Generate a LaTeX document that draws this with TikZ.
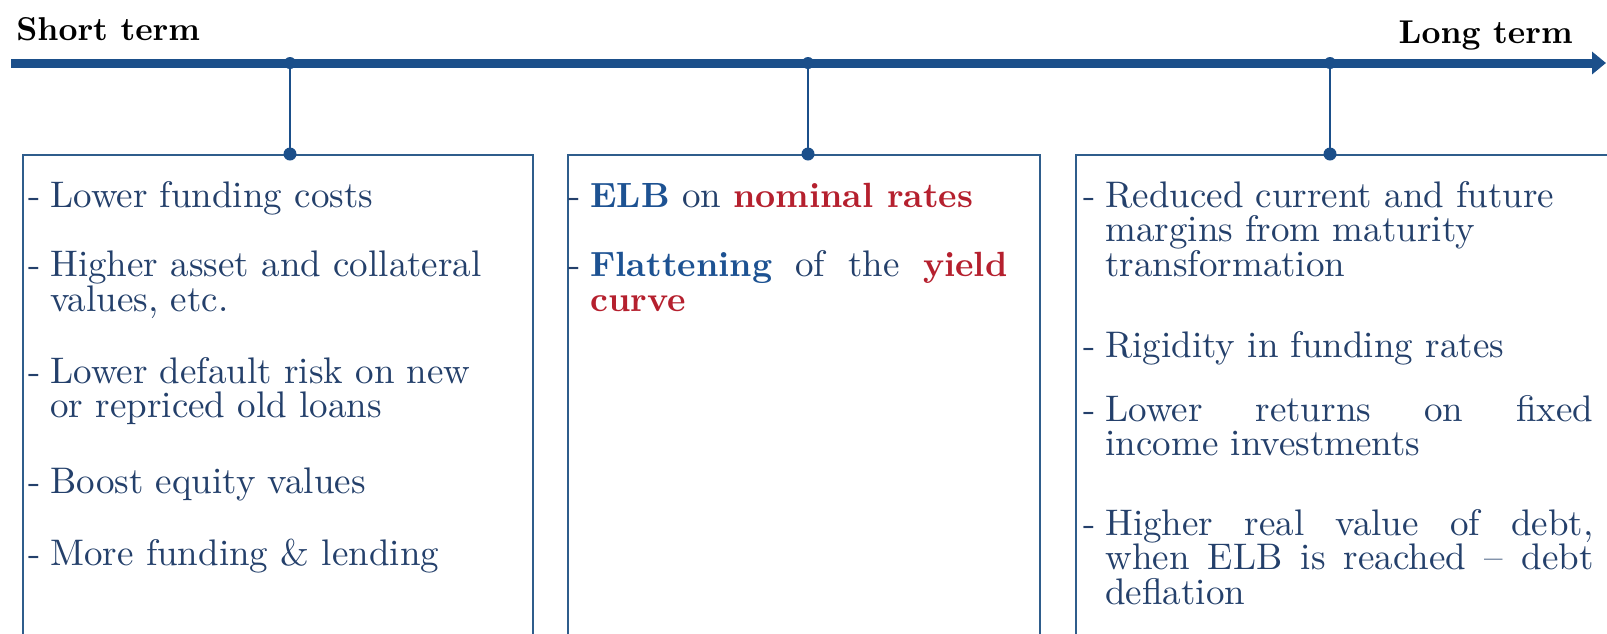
\documentclass[tikz,border=0pt]{standalone}
\usepackage{fontspec}
\setmainfont{lmroman10-regular.otf}[BoldFont=lmroman10-bold.otf,ItalicFont=lmroman10-italic.otf,BoldItalicFont=lmroman10-bolditalic.otf]
\usetikzlibrary{arrows.meta}
\definecolor{axisblue}{HTML}{1B4F8A}
\definecolor{boxblue}{HTML}{2F5D8C}
\definecolor{txt}{HTML}{24406B}
\definecolor{kblue}{HTML}{1D5292}
\definecolor{kred}{HTML}{B5202E}
\newcommand\dsh{\leavevmode\llap{-\hspace{5pt}}}
\newcommand\jus[1]{\makebox[\linewidth][s]{#1}}
\newcommand\kb[1]{{\fontsize{17.5}{17.25}\selectfont\bfseries\color{kblue}#1}}
\newcommand\kr[1]{{\fontsize{17.5}{17.25}\selectfont\bfseries\color{kred}#1}}
\newcommand\bodyfont{\fontsize{18.5}{17.25}\selectfont\lineskiplimit=-20pt\relax}
\newcommand\igap[1][18.75pt]{\\[#1]}
\begin{document}
\begin{tikzpicture}[x=0.5pt,y=-0.5pt,
  axisline/.style={draw=axisblue,line width=4.5pt,-{Triangle[length=7pt,width=11pt]}},
  conn/.style={draw=axisblue,line width=1pt},
  dotmark/.style={fill=axisblue},
  panel/.style={draw=boxblue,line width=0.8pt,rectangle,anchor=north west,inner sep=0pt,minimum height=273pt},
  txtnode/.style={anchor=base west,inner sep=0pt,text=txt},
  head/.style={inner sep=0pt,text=black,font=\fontsize{16.5}{19}\selectfont\bfseries}]
\useasboundingbox (0,0) rectangle (1607,633);
\clip (0,0) rectangle (1607,633);
% panels
\node[panel,minimum width=255pt] (b1) at (22,154) {};
\node[panel,minimum width=236pt] (b2) at (567,154) {};
\node[panel,minimum width=300pt] (b3) at (1075,154) {};
% axis
\coordinate (s) at (11,63);
\coordinate (e) at (1606,63);
\draw[axisline] (s) -- (e);
% connectors
\coordinate (p1) at (290,63);
\coordinate (p2) at (808,63);
\coordinate (p3) at (1330,63);
\path (b1.north west -| p1) coordinate (q1);
\path (b2.north west -| p2) coordinate (q2);
\path (b3.north west -| p3) coordinate (q3);
\draw[conn] (p1) -- (q1);
\draw[conn] (p2) -- (q2);
\draw[conn] (p3) -- (q3);
\foreach \c in {p1,p2,p3} \fill[dotmark] (\c) circle (3pt);
\foreach \c in {q1,q2,q3} \fill[dotmark] (\c) circle (3.25pt);
% headers
\node[head,anchor=base west] (st) at (16,40) {Short term};
\node[head,anchor=base east] (lt) at (1573,43) {Long term};
% texts
\node[txtnode] (t1) at (50,207) {\parbox[t]{225pt}{\bodyfont
\dsh Lower funding costs\igap[17.5pt]
\dsh Higher asset and collateral\\
values, etc.\igap
\dsh Lower default risk on new\\
or repriced old loans\igap[20.5pt]
\dsh Boost equity values\igap
\dsh More funding \& lending}};
\node[txtnode] (t2) at (590,207) {\parbox[t]{208.5pt}{\bodyfont
\dsh\kb{ELB} on \kr{nominal rates}\igap[17.5pt]
\dsh\jus{\kb{Flattening} of the \kr{yield}}\\
\kr{curve}}};
\node[txtnode] (t3) at (1105,207) {\parbox[t]{244pt}{\bodyfont
\dsh Reduced current and future\\
margins from maturity\\
transformation\igap[23.5pt]
\dsh Rigidity in funding rates\igap[14.5pt]
\dsh\jus{Lower returns on fixed}\\
income investments\igap[22.5pt]
\dsh\jus{Higher real value of debt,}\\
\jus{when ELB is reached -- debt}\\
deflation}};
\end{tikzpicture}
\end{document}
